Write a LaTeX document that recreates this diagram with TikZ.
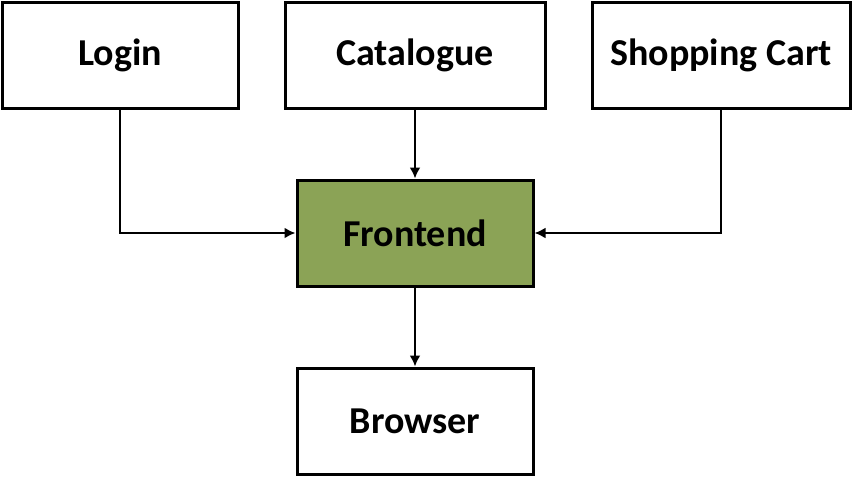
\documentclass[tikz,border=0pt]{standalone}
\usepackage{fontspec}
\setmainfont{Carlito}
\usetikzlibrary{positioning,arrows.meta}
\definecolor{frontgreen}{HTML}{8BA356}

\begin{document}
\begin{tikzpicture}[on grid, x=1pt, y=1pt,
    service/.style={draw, black, fill=white, text=black, line width=3pt, minimum height=106pt, font=\fontsize{38}{44}\selectfont\bfseries},
    link/.style={-{Latex[length=11pt,width=11pt]}}]
\useasboundingbox (0,0) rectangle (854,-477);
\node[service, fill=frontgreen, minimum width=236pt] (frontend) at (415,-233) {Frontend};
\node[service, minimum width=260pt] (catalogue)[above=178pt of frontend]{Catalogue};
\node[service, minimum width=236pt] (login) at (120,-55) {Login};
\node[service, minimum width=258pt] (cart) at (721,-55) {Shopping Cart};
\node[service, minimum width=236pt] (browser)[below=188pt of frontend]{Browser};
\begin{scope}[line width=2.6pt]
\draw[link] (login) |- (frontend);
\draw[link] (cart) |- (frontend);
\draw[link] (catalogue) -- (frontend);
\draw[link] (frontend) -- (browser);
\end{scope}
\end{tikzpicture}
\end{document}
